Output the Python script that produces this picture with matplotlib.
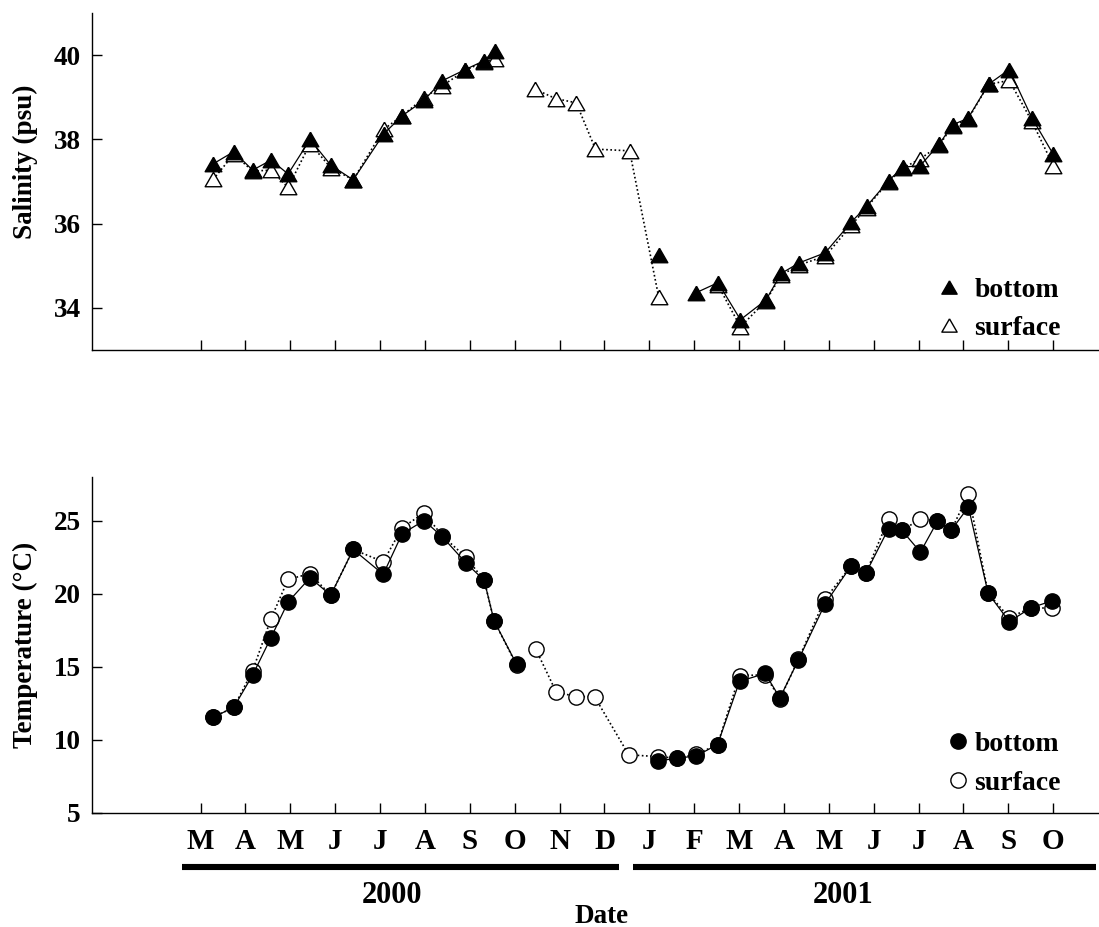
import numpy as np
import pandas as pd
import matplotlib
matplotlib.use("Agg")
import matplotlib.pyplot as plt
from matplotlib.lines import Line2D

# sampling dates as month positions: 3.0 = 1 March 2000, 13.0 = 1 January 2001
sal_month = [3.28, 3.74, 4.16, 4.57, 4.95, 5.44, 5.90, 6.40, 7.08, 7.49, 7.98, 8.38, 8.90, 9.32, 9.55,
             10.46, 10.91, 11.37, 11.80, 12.56, 13.21,
             14.04, 14.53, 15.03, 15.60, 15.94, 16.34, 16.92, 17.50, 17.84, 18.33, 18.65, 19.04, 19.46,
             19.76, 20.10, 20.56, 21.02, 21.52, 22.00]
# sampling campaign, lines are only drawn inside one campaign
sal_campaign = [1] * 15 + [2] * 6 + [3] * 19
sal_bottom = [37.42, 37.71, 37.27, 37.51, 37.18, 38.00, 37.39, 37.04, 38.13, 38.56, 38.93, 39.39, 39.66, 39.87, 40.11,
              np.nan, np.nan, np.nan, np.nan, np.nan, 35.25,
              34.36, 34.60, 33.72, 34.19, 34.82, 35.07, 35.31, 36.04, 36.41, 37.02, 37.34, 37.38, 37.89,
              38.35, 38.50, 39.31, 39.66, 38.52, 37.65]
sal_surface = [37.05, 37.65, 37.25, 37.27, 36.86, 37.90, 37.33, 37.04, 38.24, 38.56, 38.99, 39.27, 39.64, 39.85, 39.90,
               39.19, 38.97, 38.87, 37.77, 37.73, 34.25,
               np.nan, 34.54, 33.55, 34.17, 34.78, 35.02, 35.23, 35.96, 36.38, 37.00, 37.32, 37.54, 37.86,
               38.33, 38.48, 39.31, 39.40, 38.44, 37.38]

temp_month = [3.28, 3.74, 4.16, 4.57, 4.95, 5.44, 5.90, 6.40, 7.07, 7.49, 7.98, 8.39, 8.91, 9.32, 9.54, 10.04,
              10.47, 10.92, 11.36, 11.78, 12.54, 13.20, 13.61, 14.04, 14.52, 15.01, 15.58, 15.91, 16.32,
              16.91, 17.49, 17.83, 18.33, 18.63, 19.04, 19.42, 19.73, 20.11, 20.55, 21.02, 21.51, 21.97]
temp_campaign = [1] * 16 + [2] * 26
temp_bottom = [11.54, 12.23, 14.43, 17.00, 19.43, 21.09, 19.89, 23.02, 21.32, 24.09, 25.00, 23.88, 22.11, 20.91,
               18.14, 15.18,
               np.nan, np.nan, np.nan, np.nan, np.nan, 8.55, 8.75, 8.89, 9.68, 14.00, 14.54, 12.87, 15.46,
               19.27, 21.88, 21.43, 24.45, 24.32, 22.84, 24.95, 24.34, 25.93, 20.02, 18.09, 19.04, 19.50]
temp_surface = [11.54, 12.23, 14.73, 18.29, 20.98, 21.36, 19.89, 23.02, 22.18, 24.50, 25.52, 23.95, 22.50, 20.91,
                18.14, 15.12,
                16.20, 13.30, 12.95, 12.95, 8.98, 8.85, 8.75, 9.00, 9.68, 14.39, 14.45, 12.80, 15.50,
                19.61, 21.88, 21.43, 25.11, 24.32, 25.11, 24.95, 24.34, 26.81, 20.02, 18.36, 19.04, 19.00]

tick_months = list(range(3, 23))
month_labels = ["M", "A", "M", "J", "J", "A", "S", "O", "N", "D",
                "J", "F", "M", "A", "M", "J", "J", "A", "S", "O"]
years = ["2000", "2001"]

plt.rcParams["font.family"] = ["Liberation Serif", "DejaVu Serif"]
plt.rcParams["font.weight"] = "bold"

# slightly wide triangle
TRI = [(0, 1), (-1.15, -1), (1.15, -1), (0, 1)]
DOTTED = (0, (1, 1.5))


def draw_pair(ax, month, campaign, bottom, surface, marker, ms):
    df = pd.DataFrame({"month": month, "campaign": campaign,
                       "bottom": bottom, "surface": surface})
    for _, grp in df.groupby("campaign"):
        ax.plot(grp["month"], grp["surface"], linestyle=DOTTED, lw=1.2, color="black",
                marker=marker, ms=ms, mfc="white", mec="black", mew=1.0, zorder=2)
        ax.plot(grp["month"], grp["bottom"], linestyle="-", lw=0.9, color="black",
                marker=marker, ms=ms, mfc="black", mec="black", mew=1.0, zorder=3)


def style_axis(ax):
    for side in ("top", "right"):
        ax.spines[side].set_visible(False)
    for side in ("left", "bottom"):
        ax.spines[side].set_linewidth(1.0)
    ax.set_xlim(0.58, 23.02)
    ax.set_xticks(tick_months)
    ax.tick_params(direction="in", length=7, width=1, labelsize=19.5, pad=8)


fig = plt.figure(figsize=(10.99, 9.27), dpi=100)
ax_sal = fig.add_axes([0.0837, 0.6224, 0.9163, 0.3635])
ax_tmp = fig.add_axes([0.0837, 0.1230, 0.9163, 0.3628])

# salinity
draw_pair(ax_sal, sal_month, sal_campaign, sal_bottom, sal_surface, TRI, 12)
style_axis(ax_sal)
ax_sal.set_ylim(33, 41)
ax_sal.set_yticks([34, 36, 38, 40])
ax_sal.set_xticklabels([])
ax_sal.set_ylabel("Salinity (psu)", fontsize=19.5, fontweight="bold")
ax_sal.yaxis.set_label_coords(-0.054, 0.56)
sal_handles = [
    Line2D([], [], ls="none", marker=TRI, ms=11, mfc="black", mec="black"),
    Line2D([], [], ls="none", marker=TRI, ms=11, mfc="white", mec="black"),
]
ax_sal.legend(sal_handles, ["bottom", "surface"], loc="lower right", bbox_to_anchor=(0.962, 0.028),
              frameon=False, borderpad=0, borderaxespad=0, handlelength=1.0, handletextpad=0.4,
              labelspacing=0.45, prop={"size": 20, "weight": "bold"})

# temperature
draw_pair(ax_tmp, temp_month, temp_campaign, temp_bottom, temp_surface, "o", 11)
style_axis(ax_tmp)
ax_tmp.set_ylim(5, 28)
ax_tmp.set_yticks([5, 10, 15, 20, 25])
ax_tmp.set_xticklabels(month_labels)
ax_tmp.tick_params(axis="x", labelsize=21, pad=11)
ax_tmp.set_ylabel("Temperature (°C)", fontsize=19.5, fontweight="bold")
ax_tmp.yaxis.set_label_coords(-0.054, 0.5)
tmp_handles = [
    Line2D([], [], ls="none", marker="o", ms=11, mfc="black", mec="black"),
    Line2D([], [], ls="none", marker="o", ms=11, mfc="white", mec="black"),
]
ax_tmp.legend(tmp_handles, ["bottom", "surface"], loc="lower right", bbox_to_anchor=(0.962, 0.05),
              frameon=False, borderpad=0, borderaxespad=0, handlelength=0.6, handletextpad=0.3,
              labelspacing=0.5, prop={"size": 20, "weight": "bold"})

# year bars under the month labels
xt = ax_tmp.get_xaxis_transform()
year_spans = [(2.58, 12.32), (12.63, 22.96)]
year_text_x = [7.27, 17.32]
for (x0, x1), xm, yr in zip(year_spans, year_text_x, years):
    ax_tmp.plot([x0, x1], [-0.1606, -0.1606], transform=xt, color="black", lw=4.4,
                solid_capstyle="butt", clip_on=False)
    ax_tmp.text(xm, -0.244, yr, transform=xt, ha="center", va="center", fontsize=22, fontweight="bold")
ax_tmp.text(0.506, -0.308, "Date", transform=ax_tmp.transAxes, ha="center", va="center",
            fontsize=19.5, fontweight="bold")

fig.savefig("out.png", dpi=100)
